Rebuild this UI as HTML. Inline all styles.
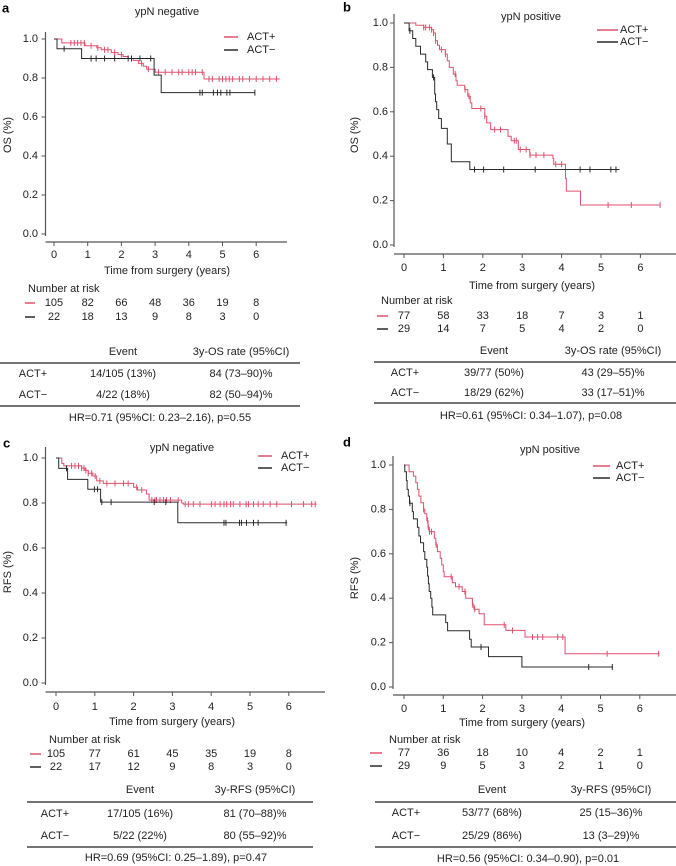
<!DOCTYPE html>
<html><head><meta charset="utf-8"><style>
html,body{margin:0;padding:0;background:#fff;}
svg{display:block;font-family:"Liberation Sans",Arial,sans-serif;}
</style></head><body>
<svg id="fig" width="676" height="866" viewBox="0 0 676 866" xmlns="http://www.w3.org/2000/svg"></svg>
<script>
// ---------- DATA ----------
// Panel a (OS, ypN negative)
const aPlusT=[0.23,0.92,1.27,1.4,1.7,1.9,2.05,2.2,2.35,2.5,2.65,2.75,3.0,4.45];
const aPlusS=[0.98,0.965,0.955,0.945,0.93,0.92,0.91,0.90,0.89,0.875,0.86,0.845,0.83,0.795];
const aPlusCens=[0.5,0.6,0.7,0.8,0.9,1.1,1.3,1.5,1.6,1.8,2.0,2.3,2.6,2.8,3.1,3.3,3.5,3.7,3.8,4.0,4.1,4.2,4.4,4.6,4.7,4.9,5.0,5.1,5.2,5.3,5.5,5.6,5.8,6.0,6.2,6.4,6.6];
const aPlusEnd=6.7;
const aMinusT=[0.09,0.82,2.97,3.18];
const aMinusS=[0.95,0.90,0.815,0.725];
const aMinusCens=[0.3,1.1,1.25,1.5,1.8,2.2,2.3,2.55,2.87,4.33,4.4,4.73,4.85,4.95,5.13,5.22,5.96];
const aMinusEnd=5.96;
const aRiskPlus=[105,82,66,48,36,19,8];
const aRiskMinus=[22,18,13,9,8,3,0];
const aTable=[["ACT+","14/105 (13%)","84 (73\u201390)%"],["ACT\u2212","4/22 (18%)","82 (50\u201394)%"]];

// Panel b (OS, ypN positive)
const bPlusT=[0.3,0.5,0.7,0.75,0.8,0.85,0.9,1.05,1.1,1.15,1.25,1.32,1.35,1.54,1.62,1.68,1.72,2.05,2.1,2.2,2.64,2.72,2.9,3.19,3.78,3.8,4.1,4.12,4.48];
const bPlusS=[0.99,0.98,0.97,0.955,0.92,0.90,0.88,0.86,0.83,0.80,0.77,0.74,0.72,0.70,0.67,0.64,0.615,0.58,0.55,0.52,0.49,0.47,0.43,0.405,0.39,0.364,0.30,0.243,0.18];
const bPlusCens=[0.5,0.55,0.65,0.7,0.75,0.8,0.95,1.05,1.3,1.55,1.65,1.95,2.05,2.3,2.45,2.8,2.85,2.95,3.1,3.2,3.35,3.55,3.85,4.0,5.18,5.77,6.5];
const bPlusEnd=6.5;
const bMinusT=[0.13,0.22,0.3,0.42,0.55,0.6,0.72,0.78,0.8,0.83,0.88,0.95,1.1,1.2,1.67];
const bMinusS=[0.965,0.93,0.895,0.86,0.825,0.79,0.755,0.68,0.645,0.61,0.57,0.525,0.455,0.375,0.34];
const bMinusCens=[0.15,0.75,1.79,2.02,2.53,3.33,4.47,4.72,5.25,5.38];
const bMinusEnd=5.47;
const bRiskPlus=[77,58,33,18,7,3,1];
const bRiskMinus=[29,14,7,5,4,2,0];
const bTable=[["ACT+","39/77 (50%)","43 (29\u201355)%"],["ACT\u2212","18/29 (62%)","33 (17\u201351)%"]];

// Panel c (RFS, ypN negative)
const cPlusT=[0.15,0.2,0.66,0.75,0.83,0.95,1.05,1.22,2.0,2.1,2.33,2.4,3.24,3.28];
const cPlusS=[0.976,0.965,0.955,0.945,0.932,0.92,0.898,0.887,0.87,0.858,0.84,0.813,0.80,0.795];
const cPlusCens=[0.40,0.49,0.58,0.66,0.72,0.77,0.83,0.92,1.01,1.13,1.31,1.52,1.74,1.86,2.08,2.21,2.47,2.55,2.59,2.68,2.77,2.85,2.95,3.15,3.33,3.41,3.54,3.71,4.01,4.1,4.23,4.33,4.40,4.5,4.57,4.74,4.9,4.96,5.09,5.21,5.34,5.52,5.69,6.07,6.38,6.59,6.68];
const cPlusEnd=6.72;
const cMinusT=[0.07,0.3,0.82,1.15,3.14];
const cMinusS=[0.954,0.905,0.861,0.804,0.712];
const cMinusCens=[0.27,0.99,1.07,1.18,1.42,2.53,2.83,4.33,4.38,4.73,4.78,4.91,5.09,5.21,5.93];
const cMinusEnd=5.96;
const cRiskPlus=[105,77,61,45,35,19,8];
const cRiskMinus=[22,17,12,9,8,3,0];
const cTable=[["ACT+","17/105 (16%)","81 (70\u201388)%"],["ACT\u2212","5/22 (22%)","80 (55\u201392)%"]];

// Panel d (RFS, ypN positive)
const dPlusT=[0.13,0.24,0.3,0.34,0.38,0.43,0.5,0.53,0.58,0.61,0.64,0.77,0.81,0.85,0.92,0.96,1.0,1.02,1.23,1.31,1.48,1.57,1.74,1.78,1.91,2.04,2.59,3.08,4.1];
const dPlusS=[0.97,0.95,0.92,0.89,0.86,0.83,0.80,0.78,0.75,0.72,0.70,0.67,0.64,0.61,0.58,0.55,0.52,0.497,0.47,0.452,0.43,0.40,0.37,0.35,0.33,0.28,0.255,0.225,0.15];
const dPlusCens=[0.5,0.6,0.62,0.65,0.7,0.82,1.2,1.4,1.55,1.75,1.8,2.55,2.76,3.27,3.4,3.53,3.91,4.04,5.17,6.48];
const dPlusEnd=6.5;
const dMinusT=[0.02,0.06,0.08,0.11,0.14,0.21,0.24,0.34,0.38,0.42,0.5,0.53,0.58,0.6,0.62,0.64,0.68,0.71,0.73,1.06,1.11,1.67,1.71,2.15,3.0];
const dMinusS=[0.97,0.93,0.89,0.86,0.828,0.79,0.757,0.72,0.68,0.65,0.61,0.575,0.54,0.50,0.465,0.43,0.40,0.36,0.325,0.29,0.2535,0.215,0.18,0.137,0.09];
const dMinusCens=[0.15,1.96,4.7,5.3];
const dMinusEnd=5.32;
const dRiskPlus=[77,36,18,10,4,2,1];
const dRiskMinus=[29,9,5,3,2,1,0];
const dTable=[["ACT+","53/77 (68%)","25 (15\u201336)%"],["ACT\u2212","25/29 (86%)","13 (3\u201329)%"]];

const xTicks=[0,1,2,3,4,5,6];
const yTicks=[0,0.2,0.4,0.6,0.8,1.0];
const yTickLabels=["0.0","0.2","0.4","0.6","0.8","1.0"];

// ---------- DRAW ----------
const NS="http://www.w3.org/2000/svg";
const svg=document.getElementById('fig');
const RED="#df506f", BLK="#2a2a2a", AX="#555";
const FS=11;
function mk(tag,attrs,parent){const e=document.createElementNS(NS,tag);for(const k in attrs)e.setAttribute(k,attrs[k]);(parent||svg).appendChild(e);return e;}
function txt(s,x,y,anchor,size,parent,extra){const t=mk('text',Object.assign({x:x,y:y,'text-anchor':anchor||'middle','dominant-baseline':'central','font-size':size||FS,fill:'#222'},extra||{}),parent);t.textContent=s;return t;}
function sAt(T,S,t){let s=1;for(let i=0;i<T.length;i++){if(T[i]<=t)s=S[i];}return s;}

function panel(L,D){
  const g=mk('g',{});
  
  
  const X=t=>L.x0+t*L.xs, Y=s=>L.y0-s*L.ys;
  const lt=txt(L.letter,L.letterX,L.letterY,'start',13,g,{'font-weight':'bold',fill:'#000'});
  
  const tt=txt(L.title,L.titleX,L.titleY,'middle',FS,g);
  
  const ya=mk('line',{x1:L.yAxisX,y1:L.yTopPx,x2:L.yAxisX,y2:L.yBotPx,stroke:AX,'stroke-width':1.2},g);
  
  yTicks.forEach((v,i)=>{
    mk('line',{x1:L.yAxisX-4,y1:Y(v),x2:L.yAxisX,y2:Y(v),stroke:AX},g);
    const tl=txt(yTickLabels[i],L.yLabRight,Y(v),'end',FS,g);
    
  });
  const xa=mk('line',{x1:L.yAxisX,y1:L.xAxisY,x2:L.xEnd,y2:L.xAxisY,stroke:AX,'stroke-width':1.2},g);
  
  xTicks.forEach(v=>{
    mk('line',{x1:X(v),y1:L.xAxisY,x2:X(v),y2:L.xAxisY+4,stroke:AX},g);
    const tl=txt(String(v),X(v),L.tickLabY,'middle',FS,g);
    
  });
  const xt=txt('Time from surgery (years)',L.xTitleX,L.xTitleY,'middle',FS,g);
  
  const yt=txt(L.ylab,L.ylabX,L.ylabY,'middle',FS,g,{transform:'rotate(-90 '+L.ylabX+' '+L.ylabY+')'});
  
  [[D.pT,D.pS,D.pC,D.pE,RED,'act-plus'],[D.mT,D.mS,D.mC,D.mE,BLK,'act-minus']].forEach(([T,S,C,E,col,nm])=>{
    let d='M'+X(0)+' '+Y(1);
    for(let i=0;i<T.length;i++){d+=' H'+X(T[i]).toFixed(1)+' V'+Y(S[i]).toFixed(1);}
    d+=' H'+X(E).toFixed(1);
    const p=mk('path',{d:d,fill:'none',stroke:col,'stroke-width':1},g);
    
    C.forEach(t=>{
      const yy=Y(sAt(T,S,t));
      const c=mk('line',{x1:X(t),y1:yy-3,x2:X(t),y2:yy+3,stroke:col,'stroke-width':1},g);
      
    });
  });
  [[RED,'ACT+',L.legY1],[BLK,'ACT\u2212',L.legY2]].forEach(([col,lab,yy])=>{
    const ll=mk('line',{x1:L.legX1,y1:yy,x2:L.legX2,y2:yy,stroke:col,'stroke-width':1.5},g);
    
    const lt2=txt(lab,L.legTX,yy,'start',FS,g);
    
  });
  const nt=txt('Number at risk',L.narX,L.narY,'start',FS,g);
  
  [[D.rP,RED,L.row1],[D.rM,BLK,L.row2]].forEach(([arr,col,yy])=>{
    mk('line',{x1:L.dash1,y1:yy,x2:L.dash2,y2:yy,stroke:col,'stroke-width':1.5},g);
    arr.forEach((n,i)=>{
      const r=txt(String(n),X(xTicks[i]),yy,'middle',FS,g);
      
    });
  });
  txt('Event',L.cols[1],L.hdrY,'middle',FS,g);
  txt(L.rateHdr,L.cols[2],L.hdrY,'middle',FS,g);
  mk('line',{x1:L.tx1,y1:L.line1,x2:L.tx2,y2:L.line1,stroke:'#222','stroke-width':1.2},g);
  D.tab.forEach((row,ri)=>{
    const yy=ri===0?L.r1:L.r2;
    row.forEach((c,ci)=>{
      const tc=txt(c,L.cols[ci],yy,'middle',FS,g);
      
    });
  });
  mk('line',{x1:L.tx1,y1:L.line2,x2:L.tx2,y2:L.line2,stroke:'#222','stroke-width':1.2},g);
  const hr=txt(L.hr,L.hrX,L.hrY,'middle',FS,g);
  
}

panel({letter:'a',letterX:2,letterY:8,title:'ypN negative',titleX:167,titleY:12,yAxisX:45.5,yTopPx:32,yBotPx:236,y0:234,ys:195,yLabRight:38,
  xAxisY:242,x0:54,xs:33.7,xEnd:287,tickLabY:255,xTitleX:167,xTitleY:271,ylab:'OS (%)',ylabX:8,ylabY:135,
  legX1:224,legX2:238,legTX:247,legY1:37,legY2:50,narX:28,narY:289,row1:303,row2:317,dash1:25,dash2:35,
  hdrY:352,line1:363,tx1:0,tx2:300,r1:374,r2:395,line2:406,hrX:160,hrY:418,cols:[33,123,241],rateHdr:'3y-OS rate (95%CI)',
  hr:'HR=0.71 (95%CI: 0.23\u20132.16), p=0.55'},
  {pT:aPlusT,pS:aPlusS,pC:aPlusCens,pE:aPlusEnd,mT:aMinusT,mS:aMinusS,mC:aMinusCens,mE:aMinusEnd,rP:aRiskPlus,rM:aRiskMinus,tab:aTable});

panel({letter:'b',letterX:343,letterY:7,title:'ypN positive',titleX:531,titleY:17,yAxisX:394,yTopPx:14,yBotPx:247,y0:245,ys:222,yLabRight:388,
  xAxisY:254,x0:404,xs:39.4,xEnd:676,tickLabY:268,xTitleX:532,xTitleY:286,ylab:'OS (%)',ylabX:355,ylabY:135,
  legX1:597,legX2:618,legTX:620,legY1:30,legY2:42,narX:381,narY:301,row1:316,row2:329,dash1:377,dash2:388,
  hdrY:351,line1:362,tx1:374,tx2:676,r1:373,r2:393,line2:403,hrX:531,hrY:416,cols:[405,494,613],rateHdr:'3y-OS rate (95%CI)',
  hr:'HR=0.61 (95%CI: 0.34\u20131.07), p=0.08'},
  {pT:bPlusT,pS:bPlusS,pC:bPlusCens,pE:bPlusEnd,mT:bMinusT,mS:bMinusS,mC:bMinusCens,mE:bMinusEnd,rP:bRiskPlus,rM:bRiskMinus,tab:bTable});

panel({letter:'c',letterX:3,letterY:443,title:'ypN negative',titleX:182,titleY:448,yAxisX:45.5,yTopPx:447,yBotPx:685,y0:683,ys:225,yLabRight:38,
  xAxisY:692,x0:56,xs:38.8,xEnd:325,tickLabY:707,xTitleX:172,xTitleY:722,ylab:'RFS (%)',ylabX:8,ylabY:572,
  legX1:258,legX2:272,legTX:281,legY1:456,legY2:468,narX:49,narY:740,row1:754,row2:767,dash1:30,dash2:41,
  hdrY:790,line1:802,tx1:27,tx2:313,r1:814,r2:836,line2:847,hrX:176,hrY:858,cols:[55,140,255],rateHdr:'3y-RFS (95%CI)',
  hr:'HR=0.69 (95%CI: 0.25\u20131.89), p=0.47'},
  {pT:cPlusT,pS:cPlusS,pC:cPlusCens,pE:cPlusEnd,mT:cMinusT,mS:cMinusS,mC:cMinusCens,mE:cMinusEnd,rP:cRiskPlus,rM:cRiskMinus,tab:cTable});

panel({letter:'d',letterX:343,letterY:442,title:'ypN positive',titleX:550,titleY:450,yAxisX:393,yTopPx:456,yBotPx:689,y0:687,ys:222,yLabRight:386,
  xAxisY:695,x0:404,xs:39.3,xEnd:676,tickLabY:709,xTitleX:522,xTitleY:723,ylab:'RFS (%)',ylabX:355,ylabY:578,
  legX1:593,legX2:610,legTX:616,legY1:466,legY2:478,narX:389,narY:740,row1:753,row2:766,dash1:370,dash2:382,
  hdrY:790,line1:802,tx1:375,tx2:676,r1:813,r2:836,line2:847,hrX:528,hrY:859,cols:[406,492,611],rateHdr:'3y-RFS (95%CI)',
  hr:'HR=0.56 (95%CI: 0.34\u20130.90), p=0.01'},
  {pT:dPlusT,pS:dPlusS,pC:dPlusCens,pE:dPlusEnd,mT:dMinusT,mS:dMinusS,mC:dMinusCens,mE:dMinusEnd,rP:dRiskPlus,rM:dRiskMinus,tab:dTable});
</script>
</body></html>
